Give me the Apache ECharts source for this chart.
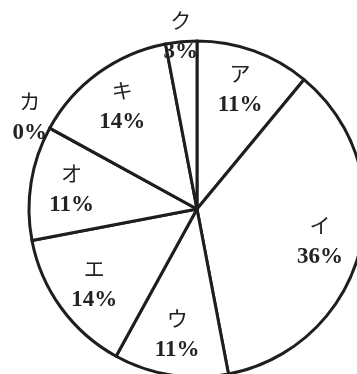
<!DOCTYPE html>
<html>
<head>
<meta charset="utf-8">
<script src="https://cdn.jsdelivr.net/npm/echarts@6/dist/echarts.min.js"></script>
<style>
  html, body { margin: 0; padding: 0; background: #fff; }
  #chart { width: 357px; height: 374px; }
</style>
</head>
<body>
<div id="chart"></div>
<script>
// 項目と割合(%)
var names = ["ア", "イ", "ウ", "エ", "オ", "カ", "キ", "ク"];
var values = [11, 36, 11, 14, 11, 0, 14, 3];

var chart = echarts.init(document.getElementById("chart"));

var ctr = [197, 209];
var R = 168;

// 指定した項目だけラベルを出すデータ
function labelData(showNames) {
    return names.map(function (n, i) {
        return { name: n, value: values[i], label: { show: showNames.indexOf(n) >= 0 } };
    });
}

var rich = {
    k: { fontFamily: "'Noto Sans CJK JP'", fontSize: 21, color: "#222", lineHeight: 32 },
    p: { fontFamily: "'Liberation Serif'", fontSize: 23, fontWeight: "bold", color: "#222", lineHeight: 32 }
};

// ラベルだけの透明な円 (半径の中央にラベルが乗る)
function labelSeries(showNames, radius) {
    return {
        type: "pie",
        center: ctr,
        radius: radius,
        startAngle: 90,
        silent: true,
        minShowLabelAngle: 0,
        itemStyle: { color: "rgba(0,0,0,0)", borderWidth: 0 },
        label: { position: "inside", formatter: "{k|{b}}\n{p|{c}%}", rich: rich },
        labelLine: { show: false },
        data: labelData(showNames)
    };
}

var option = {
    animation: false,
    backgroundColor: "#fff",
    series: [
        {
            type: "pie",
            center: ctr,
            radius: [0, R],
            startAngle: 90,
            clockwise: true,
            silent: true,
            label: { show: false },
            labelLine: { show: false },
            itemStyle: { color: "#fff", borderColor: "#1e1e1e", borderWidth: 3 },
            data: names.map(function (n, i) { return { name: n, value: values[i] }; })
        },
        labelSeries(["ア", "イ", "ウ", "エ", "オ", "キ"], [80, 168]),
        labelSeries(["カ"], [176, 200]),
        labelSeries(["ク"], [160, 182])
    ]
};
chart.setOption(option);
</script>
</body>
</html>
